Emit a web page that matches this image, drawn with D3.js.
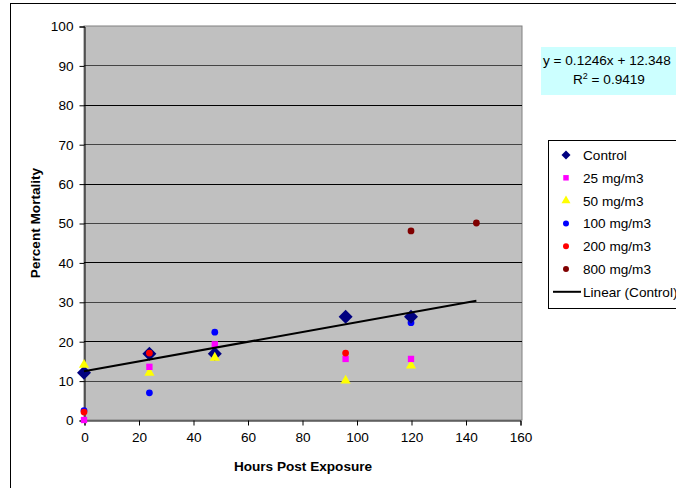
<!DOCTYPE html>
<html><head><meta charset="utf-8">
<script src="https://cdn.jsdelivr.net/npm/d3@7"></script>
<style>body{margin:0;background:#fff;}svg{display:block;font-family:"Liberation Sans",Arial,sans-serif;}</style>
</head><body>
<svg id="c" width="676" height="488"></svg>
<script>
const xTicks = [0,20,40,60,80,100,120,140,160];
const yTicks = [0,10,20,30,40,50,60,70,80,90,100];
const seriesNames = ["Control","25 mg/m3","50 mg/m3","100 mg/m3","200 mg/m3","800 mg/m3"];
const control = [[0,12],[24,16.8],[48,16.8],[96,26.2],[120,26.2]];
const mg25 = [[0,0],[24,13.5],[48,19.2],[96,15.5],[120,15.5]];
const mg50 = [[0,14],[24,12],[48,15.8],[96,10],[120,13.8]];
const mg100 = [[0,2.4],[24,6.9],[48,22.3],[96,25.8],[120,24.7]];
const mg200 = [[0,2],[24,17],[96,17]];
const mg800 = [[120,48],[144,50]];
const trend = {slope:0.1246, intercept:12.348, x0:0, x1:144};
const eqText = "y = 0.1246x + 12.348";
const r2Text = "0.9419";

const FS = 13.6;
const svg = d3.select("#c");
const x = d3.scaleLinear().domain([0,160]).range([84,520]);
const y = d3.scaleLinear().domain([0,100]).range([420,26]);

svg.append("rect").attr("x",10.5).attr("y",3.5).attr("width",700).attr("height",600)
  .attr("fill","#fff").attr("stroke","#000");

svg.append("rect").attr("x",84).attr("y",26).attr("width",438).attr("height",394)
  .attr("fill","#c0c0c0").attr("stroke","#808080");

svg.append("g").selectAll("line").data(yTicks.filter(d=>d>0&&d<100)).join("line")
  .attr("x1",84).attr("x2",522)
  .attr("y1",d=>Math.round(y(d))+0.5).attr("y2",d=>Math.round(y(d))+0.5)
  .attr("stroke",d=>d%20===0?"#000":"#444").attr("stroke-width",1);

const yAxis = d3.axisLeft(y).tickValues(yTicks).tickSize(5).tickPadding(6);
const gy = svg.append("g").attr("transform","translate(84.5,0.5)").call(yAxis);
const xAxis = d3.axisBottom(x).tickValues(xTicks).tickSize(5).tickPadding(7);
const gx = svg.append("g").attr("transform","translate(0.5,420.5)").call(xAxis);
[gx,gy].forEach(g=>{
  g.select(".domain").attr("stroke","#000");
  g.selectAll(".tick line").attr("stroke","#000");
  g.selectAll("text").attr("font-size",FS).attr("fill","#000").attr("font-family","Liberation Sans, Arial, sans-serif");
});

svg.append("text").attr("x",303).attr("y",471).attr("text-anchor","middle")
  .attr("font-size",FS).attr("font-weight","bold").text("Hours Post Exposure");
svg.append("text").attr("transform","translate(40,223) rotate(-90)").attr("text-anchor","middle")
  .attr("font-size",FS).attr("font-weight","bold").text("Percent Mortality");

function diamond(r){ return `M0,${-r}L${r},0L0,${r}L${-r},0Z`; }
const sym = {
  diamond: () => diamond(7),
  square: d3.symbol().type(d3.symbolSquare).size(40),
  triangle: d3.symbol().type(d3.symbolTriangle).size(45),
  circle: d3.symbol().type(d3.symbolCircle).size(36)
};
const series = [
  {data:mg800, shape:"circle", color:"#800000"},
  {data:mg100, shape:"circle", color:"#0000ff"},
  {data:control, shape:"diamond", color:"#000080"},
  {data:mg50, shape:"triangle", color:"#ffff00"},
  {data:mg25, shape:"square", color:"#ff00ff"},
  {data:mg200, shape:"circle", color:"#ff0000"}
];
series.forEach(s=>{
  svg.append("g").selectAll("path").data(s.data).join("path")
    .attr("transform",d=>`translate(${x(d[0])},${y(d[1])})`)
    .attr("d",sym[s.shape]).attr("fill",s.color);
});

svg.append("line")
  .attr("x1",x(trend.x0)).attr("y1",y(trend.slope*trend.x0+trend.intercept))
  .attr("x2",x(trend.x1)).attr("y2",y(trend.slope*trend.x1+trend.intercept))
  .attr("stroke","#000").attr("stroke-width",2);

svg.append("rect").attr("x",541).attr("y",47).attr("width",140).attr("height",48).attr("fill","#ccffff");
svg.append("text").attr("x",543).attr("y",65).attr("font-size",FS).text(eqText);
const r2 = svg.append("text").attr("x",573).attr("y",84).attr("font-size",FS);
r2.append("tspan").text("R");
r2.append("tspan").attr("dy",-5).attr("font-size",9).text("2");
r2.append("tspan").attr("dy",5).text(" = " + r2Text);

svg.append("rect").attr("x",548.5).attr("y",140.5).attr("width",140).attr("height",168)
  .attr("fill","#fff").attr("stroke","#000");
const legShapes = [
  {path: diamond(4.5), color:"#000080"},
  {path: d3.symbol().type(d3.symbolSquare).size(30)(), color:"#ff00ff"},
  {path: d3.symbol().type(d3.symbolTriangle).size(35)(), color:"#ffff00"},
  {path: d3.symbol().type(d3.symbolCircle).size(28)(), color:"#0000ff"},
  {path: d3.symbol().type(d3.symbolCircle).size(28)(), color:"#ff0000"},
  {path: d3.symbol().type(d3.symbolCircle).size(28)(), color:"#800000"}
];
seriesNames.forEach((n,i)=>{
  const yy = 155 + i*22.8;
  const s = legShapes[i];
  svg.append("path").attr("transform",`translate(566,${yy})`).attr("d",s.path).attr("fill",s.color);
  svg.append("text").attr("x",583).attr("y",yy+5).attr("font-size",FS).text(n);
});
const ly = 155 + 6*22.8;
svg.append("line").attr("x1",553).attr("x2",581).attr("y1",ly).attr("y2",ly).attr("stroke","#000").attr("stroke-width",2);
svg.append("text").attr("x",583).attr("y",ly+5).attr("font-size",FS).text("Linear (Control)");
</script>
</body></html>
